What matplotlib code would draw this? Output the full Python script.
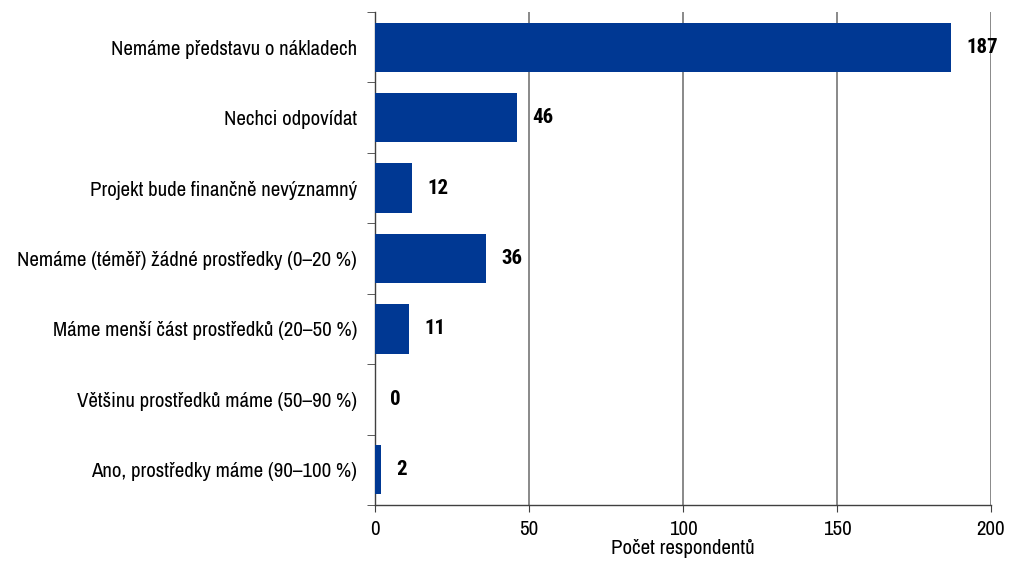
import matplotlib
matplotlib.use("Agg")
import matplotlib.pyplot as plt
from matplotlib import font_manager

categories = [
    "Nemáme představu o nákladech",
    "Nechci odpovídat",
    "Projekt bude finančně nevýznamný",
    "Nemáme (téměř) žádné prostředky (0–20 %)",
    "Máme menší část prostředků (20–50 %)",
    "Většinu prostředků máme (50–90 %)",
    "Ano, prostředky máme (90–100 %)",
]
values = [187, 46, 12, 36, 11, 0, 2]
xticks = [0, 50, 100, 150, 200]
xlabel = "Počet respondentů"

fl = font_manager.fontManager.ttflist
names = {f.name for f in fl}
cands = ["Liberation Sans Narrow", "Archivo Narrow", "Roboto Condensed",
         "PT Sans Narrow", "Liberation Sans"]
fam = [f for f in cands if f in names] + ["DejaVu Sans"]
plt.rcParams["font.family"] = fam

def has_bold(name):
    for f in fl:
        if f.name == name:
            w = f.weight
            if isinstance(w, str):
                if "bold" in w.lower():
                    return True
            elif w >= 600:
                return True
    return False

bold_fam = [f for f in cands if f in names and has_bold(f)] + ["DejaVu Sans"]

fig = plt.figure(figsize=(10.09, 5.62), dpi=100)
ax = fig.add_axes([375 / 1009, 1 - 505 / 562, (991 - 375) / 1009, (505 - 12) / 562])

n = len(categories)
ypos = list(range(n))
ax.barh(ypos, values, height=0.7, color="#003893", zorder=3)
ax.set_ylim(n - 0.5, -0.5)
ax.set_xlim(0, 200)
ax.set_xticks(xticks)
ax.set_xticklabels([str(t) for t in xticks], fontsize=15)
ax.set_yticks(ypos)
ax.set_yticklabels(categories, fontsize=15)
ax.tick_params(axis="y", length=0, pad=13)
ax.set_yticks([i - 0.5 for i in range(n + 1)], minor=True)
ax.tick_params(axis="y", which="minor", length=6, direction="out", color="#404040")
ax.tick_params(axis="x", length=5, direction="out", color="#404040", pad=6)
ax.xaxis.grid(True, color="#808080", linewidth=1.3, zorder=0)
for s in ["top", "right"]:
    ax.spines[s].set_visible(False)
for s in ["left", "bottom"]:
    ax.spines[s].set_color("#404040")
    ax.spines[s].set_linewidth(1.0)
ax.set_xlabel(xlabel, fontsize=15, labelpad=0)

for y, v in zip(ypos, values):
    ax.text(v + 5, y, str(v), va="center", ha="left", fontsize=15,
            fontweight="bold", family=bold_fam, zorder=4)

fig.savefig("out.png", dpi=100)
